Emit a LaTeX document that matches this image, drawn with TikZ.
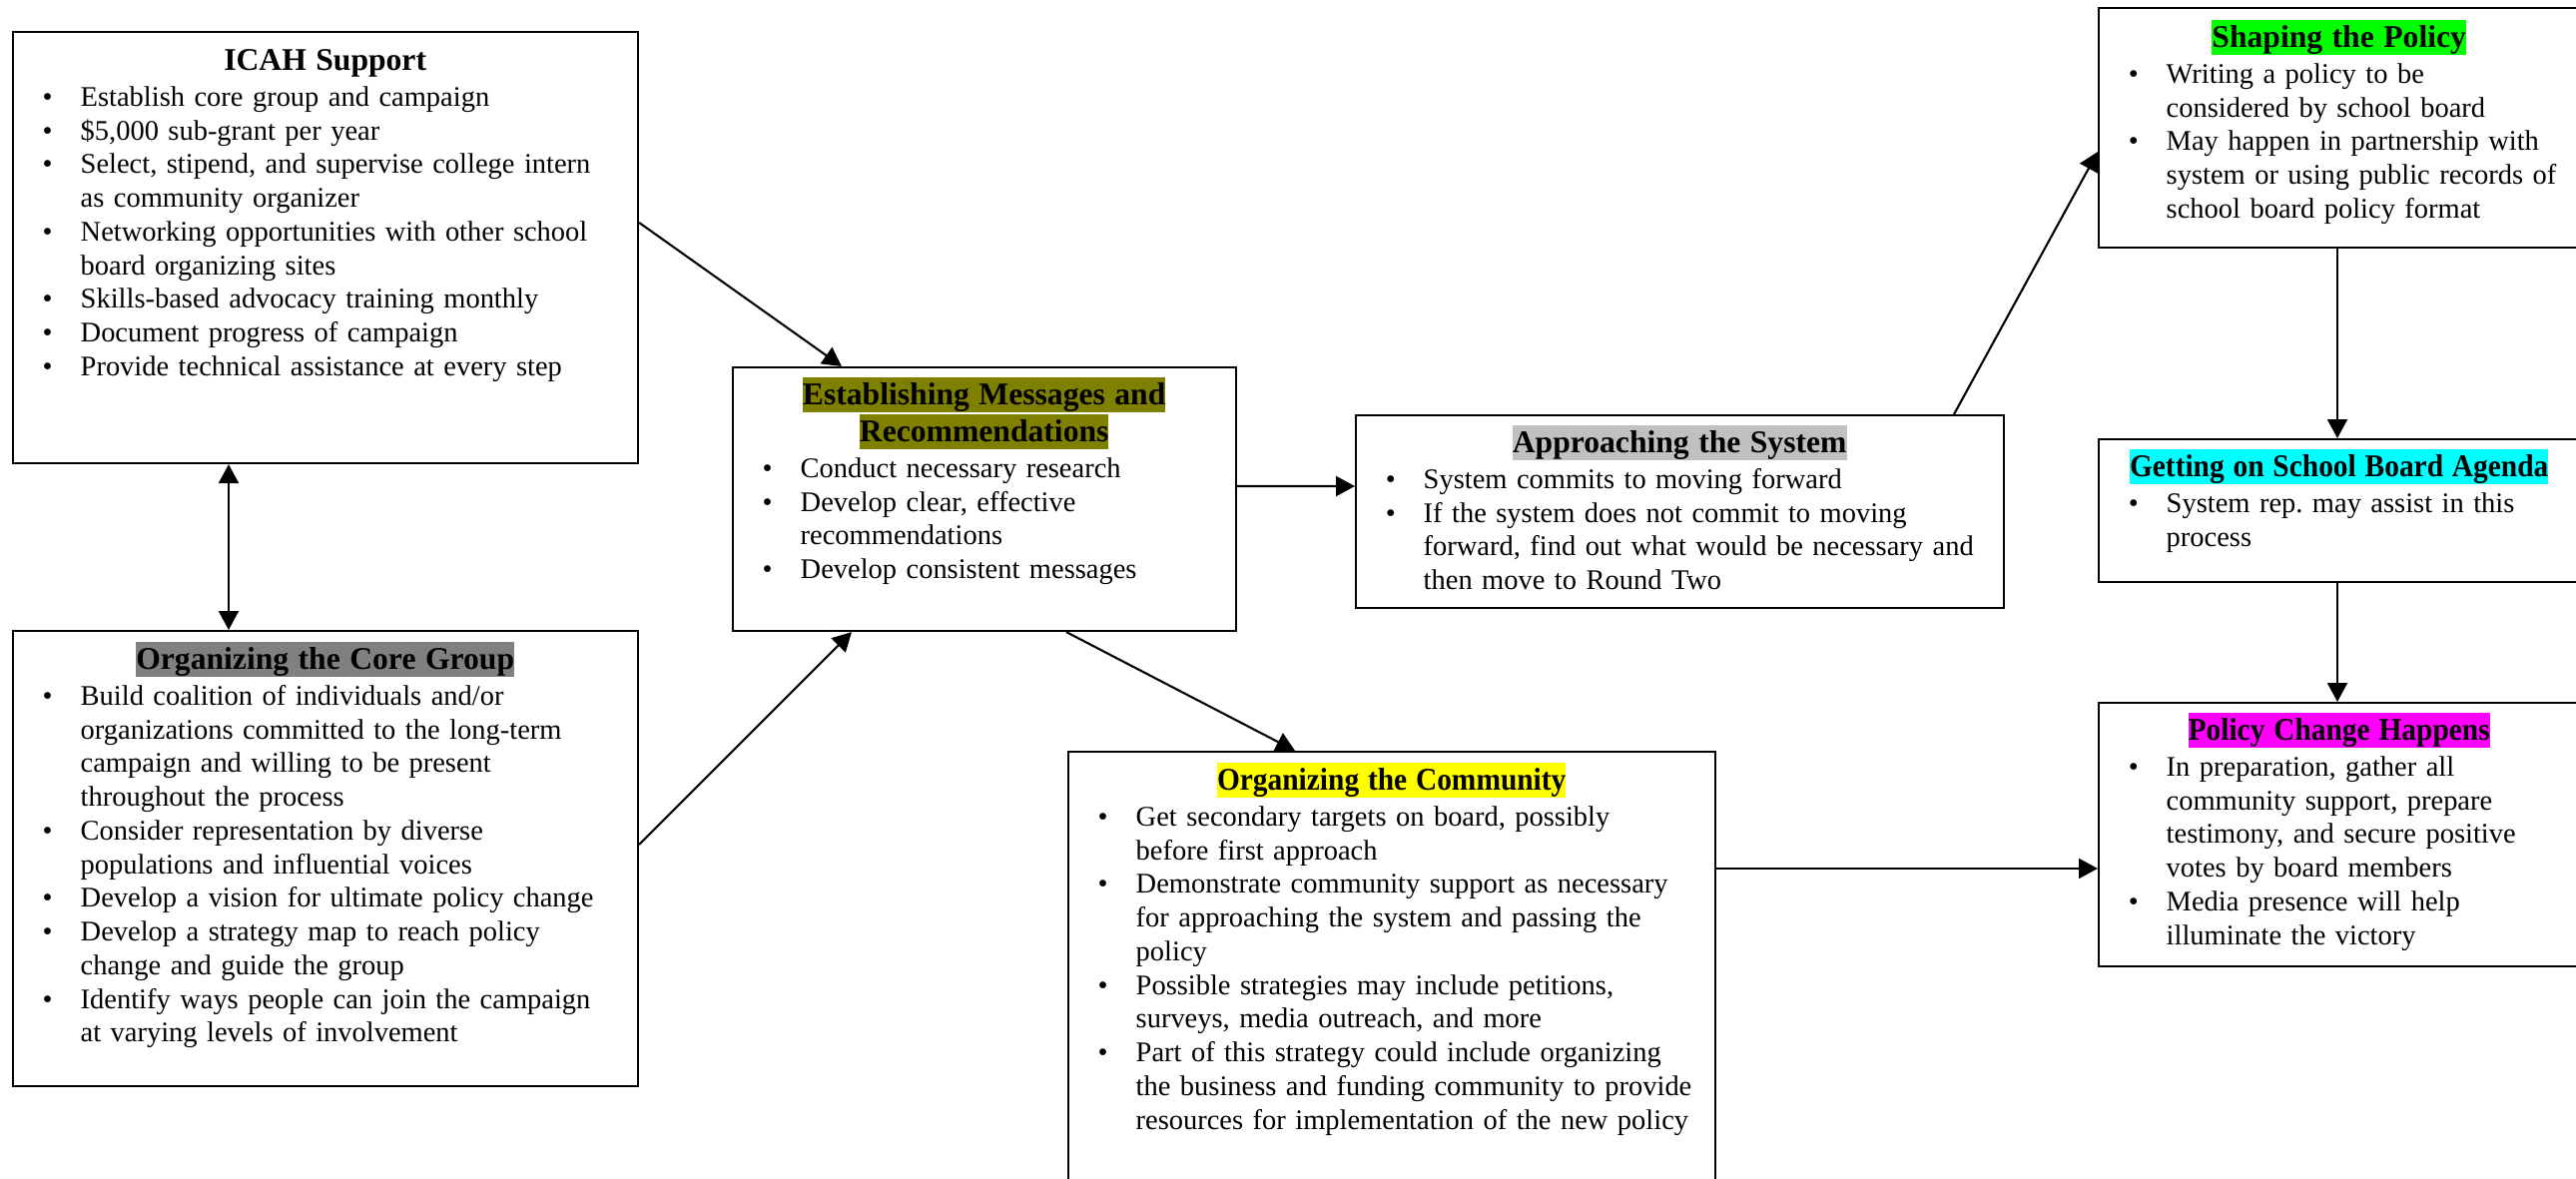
\documentclass[tikz,border=0pt]{standalone}
\usepackage{fontspec}
\setmainfont{Liberation Serif}
\usepackage{enumitem}
\usetikzlibrary{positioning,arrows.meta}
\definecolor{core}{HTML}{808080}
\definecolor{msg}{HTML}{808000}
\definecolor{sys}{HTML}{C0C0C0}
\definecolor{comm}{HTML}{FFFF00}
\definecolor{shape}{HTML}{00FF00}
\definecolor{agenda}{HTML}{00FFFF}
\definecolor{change}{HTML}{FF00FF}
\setlist[itemize]{label=\textbullet, leftmargin=0.48cm, labelsep=0.28cm, rightmargin=-0.3cm,
  topsep=0.5pt, partopsep=0pt, itemsep=0pt, parsep=0pt}
\frenchspacing
\newcommand{\hfont}{\fontsize{9.0}{10.5}\selectfont\bfseries}
% highlighted heading, optional horizontal squeeze
\newcommand{\hd}[3][1]{{\setlength{\fboxsep}{0pt}\colorbox{#2}{\rule[-0.216em]{0pt}{1.107em}\scalebox{#1}[1]{#3}}}}

\begin{document}
\begin{tikzpicture}[
  box/.style={draw, line width=0.6pt, rectangle, anchor=north west, inner sep=0pt},
  txt/.style={anchor=north west, inner sep=0pt, align=left, font=\fontsize{8.1}{9.6}\selectfont},
  arr/.style={-{Triangle[length=1.9mm,width=2mm]}, line width=0.6pt},
  dbl/.style={{Triangle[length=1.9mm,width=2mm]}-{Triangle[length=1.9mm,width=2mm]}, line width=0.6pt}]
\useasboundingbox (0,0) rectangle (25.80,-11.81);
% left column
\node[box, minimum width=6.26cm, minimum height=4.32cm] (icah) at (0.12,-0.31) {};
\node[txt, text width=5.86cm] (icahtxt) at ([xshift=2mm,yshift=-1.1mm]icah.north west) {%
  {\centering\hfont\hd{white}{ICAH Support}\par}
  \begin{itemize}
  \item Establish core group and campaign
  \item \$5,000 sub-grant per year
  \item Select, stipend, and supervise college intern\newline as community organizer
  \item Networking opportunities with other school\newline board organizing sites
  \item Skills-based advocacy training monthly
  \item Document progress of campaign
  \item Provide technical assistance at every step
  \end{itemize}};
\node[box, minimum width=6.26cm, minimum height=4.56cm] (core) at (0.12,-6.31) {};
\node[txt, text width=5.86cm] (coretxt) at ([xshift=2mm,yshift=-1.1mm]core.north west) {%
  {\centering\hfont\hd{core}{Organizing the Core Group}\par}
  \begin{itemize}
  \item Build coalition of individuals and/or\newline organizations committed to the long-term\newline campaign and willing to be present\newline throughout the process
  \item Consider representation by diverse\newline populations and influential voices
  \item Develop a vision for ultimate policy change
  \item Develop a strategy map to reach policy\newline change and guide the group
  \item Identify ways people can join the campaign\newline at varying levels of involvement
  \end{itemize}};
% middle
\node[box, minimum width=5.04cm, minimum height=2.64cm] (est) at (7.33,-3.67) {};
\node[txt, text width=4.64cm] (esttxt) at ([xshift=2mm,yshift=-1.0mm]est.north west) {%
  {\centering\hfont\hd{msg}{Establishing Messages and}\\\hd{msg}{Recommendations}\par}
  \begin{itemize}
  \item Conduct necessary research
  \item Develop clear, effective\newline recommendations
  \item Develop consistent messages
  \end{itemize}};
\node[box, minimum width=6.49cm, minimum height=1.93cm] (app) at (13.57,-4.15) {};
\node[txt, text width=6.09cm] (apptxt) at ([xshift=2mm,yshift=-1.0mm]app.north west) {%
  {\centering\hfont\hd{sys}{Approaching the System}\par}
  \begin{itemize}
  \item System commits to moving forward
  \item If the system does not commit to moving\newline forward, find out what would be necessary and\newline then move to Round Two
  \end{itemize}};
\node[box, minimum width=6.48cm, minimum height=4.70cm] (comm) at (10.69,-7.52) {};
\node[txt, text width=6.08cm] (commtxt) at ([xshift=2mm,yshift=-1.1mm]comm.north west) {%
  {\centering\hfont\hd[0.93]{comm}{Organizing the Community}\par}
  \begin{itemize}
  \item Get secondary targets on board, possibly\newline before first approach
  \item Demonstrate community support as necessary\newline for approaching the system and passing the\newline policy
  \item Possible strategies may include petitions,\newline surveys, media outreach, and more
  \item Part of this strategy could include organizing\newline the business and funding community to provide\newline resources for implementation of the new policy
  \end{itemize}};
% right column
\node[box, minimum width=4.82cm, minimum height=2.40cm] (shape) at (21.01,-0.07) {};
\node[txt, text width=4.42cm] (shapetxt) at ([xshift=2mm,yshift=-1.2mm]shape.north west) {%
  {\centering\hfont\hd{shape}{Shaping the Policy}\par}
  \begin{itemize}
  \item Writing a policy to be\newline considered by school board
  \item May happen in partnership with\newline system or using public records of\newline school board policy format
  \end{itemize}};
\node[box, minimum width=4.82cm, minimum height=1.43cm] (agenda) at (21.01,-4.39) {};
\node[txt, text width=4.42cm] (agendatxt) at ([xshift=2mm,yshift=-1.0mm]agenda.north west) {%
  {\centering\hfont\hd[0.93]{agenda}{Getting on School Board Agenda}\par}
  \begin{itemize}
  \item System rep. may assist in this\newline process
  \end{itemize}};
\node[box, minimum width=4.82cm, minimum height=2.64cm] (change) at (21.01,-7.03) {};
\node[txt, text width=4.42cm] (changetxt) at ([xshift=2mm,yshift=-1.0mm]change.north west) {%
  {\centering\hfont\hd[0.93]{change}{Policy Change Happens}\par}
  \begin{itemize}
  \item In preparation, gather all\newline community support, prepare\newline testimony, and secure positive\newline votes by board members
  \item Media presence will help\newline illuminate the victory
  \end{itemize}};
% connectors
\draw[dbl] ([xshift=2.17cm]icah.south west) -- ([xshift=2.17cm]core.north west);
\draw[arr] ([yshift=-1.92cm]icah.north east) -- ([xshift=1.10cm]est.north west);
\draw[arr] ([yshift=-2.15cm]core.north east) -- ([xshift=1.20cm]est.south west);
\draw[arr] ([yshift=-1.20cm]est.north east) -- ([yshift=-0.72cm]app.north west);
\draw[arr] ([xshift=3.35cm]est.south west) -- ([xshift=2.28cm]comm.north west);
\draw[arr] ([xshift=6.00cm]app.north west) -- ([yshift=-1.45cm]shape.north west);
\draw[arr] ([xshift=2.40cm]shape.south west) -- ([xshift=2.40cm]agenda.north west);
\draw[arr] ([xshift=2.40cm]agenda.south west) -- ([xshift=2.40cm]change.north west);
\draw[arr] ([yshift=-1.18cm]comm.north east) -- ([yshift=-1.67cm]change.north west);
\end{tikzpicture}
\end{document}
